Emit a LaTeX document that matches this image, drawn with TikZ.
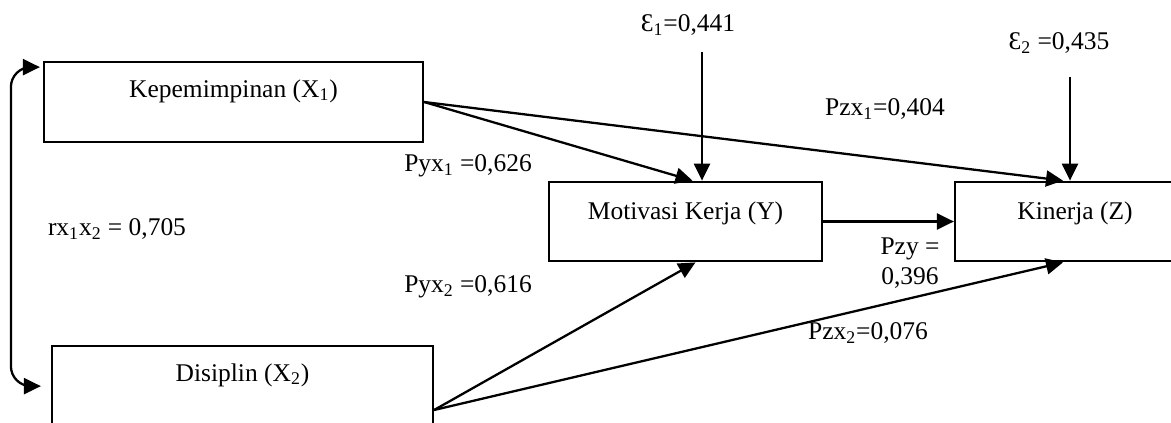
\documentclass[tikz,border=0pt]{standalone}
\usepackage{fontspec}
\setmainfont{Liberation Serif}
\usetikzlibrary{arrows.meta}

\begin{document}
\begin{tikzpicture}[x=0.02cm,y=-0.02cm,line width=1.3pt,
  every node/.style={font=\fontsize{14.5}{17}\selectfont},
  box/.style={draw,rectangle,minimum height=1.59cm,inner sep=0pt},
  arr/.style={-{Triangle[length=0.34cm,width=0.32cm]}},
  dblarr/.style={{Triangle[length=0.34cm,width=0.32cm]}-{Triangle[length=0.34cm,width=0.32cm]}}]
\useasboundingbox (0,0) rectangle (1171,423);
\clip (0,0) rectangle (1171,423);
% variables
\node[box,minimum width=7.58cm] (kep) at (233.5,102) {};
\node (kept) at (233.5,91) {Kepemimpinan (X\textsubscript{1})};
\node[box,minimum width=7.62cm] (dis) at (242.5,386) {};
\node (dist) at (242.5,375) {Disiplin (X\textsubscript{2})};
\node[box,minimum width=5.46cm] (mot) at (685.5,221.5) {};
\node (mott) at (685.5,213) {Motivasi Kerja (Y)};
\node[box,minimum width=4.8cm] (kin) at (1075,221.5) {};
\node (kint) at (1075,213) {Kinerja (Z)};
% residuals
\node (e1) at (688,25) {Ɛ\textsubscript{1}=0,441};
\node (e2) at (1059,43) {Ɛ\textsubscript{2} =0,435};
\coordinate (e1top) at (702,52);
\coordinate (e2top) at (1070,77);
\draw[arr] (e1top) -- (e1top |- mot.north);
\draw[arr] (e2top) -- (e2top |- kin.north);
% paths
\draw[arr] (kep.east) -- ([shift={(7,0)}]mot.north);
\draw[arr] (kep.east) -- ([shift={(-12,0)}]kin.north);
\draw[arr] (mot.east) -- (kin.west);
\draw[arr] ([shift={(0,24)}]dis.east) -- ([shift={(10,0)}]mot.south);
\draw[arr] ([shift={(0,24)}]dis.east) -- ([shift={(-12,0)}]kin.south);
\draw[dblarr,rounded corners=0.4cm] ([shift={(-3,6)}]kep.north west) -- ++(-29,0) |- ([shift={(-10,41)}]dis.north west);
% coefficients
\node (pyx1) at (468,166) {Pyx\textsubscript{1} =0,626};
\node (pzx1) at (885,109) {Pzx\textsubscript{1}=0,404};
\node (rx) at (117,229) {rx\textsubscript{1}x\textsubscript{2} = 0,705};
\node (pyx2) at (468,287) {Pyx\textsubscript{2} =0,616};
\node[align=center] (pzy) at (910,263) {Pzy =\\0,396};
\node (pzx2) at (868,333) {Pzx\textsubscript{2}=0,076};
\end{tikzpicture}
\end{document}
